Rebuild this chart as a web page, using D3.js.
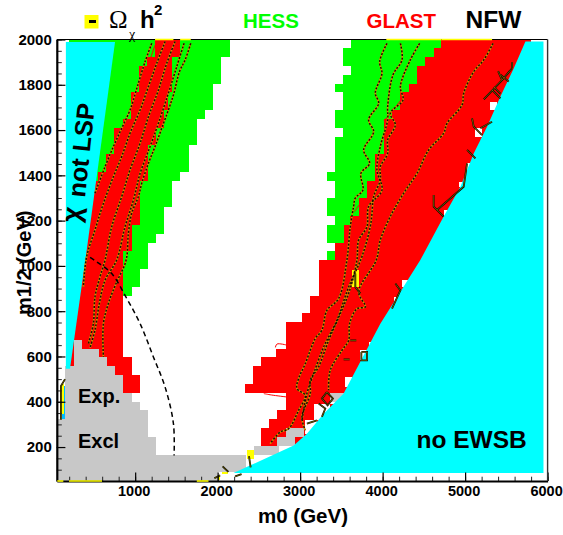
<!DOCTYPE html>
<html><head><meta charset="utf-8">
<script src="https://cdn.jsdelivr.net/npm/d3@7"></script>
<style>html,body{margin:0;padding:0;background:#fff}svg{display:block}text{font-family:"Liberation Sans",Arial,sans-serif;font-weight:bold}</style>
</head><body><div id="c"></div>
<script>
// all bands: [m12 high, m12 low, m0 from, m0 to]
const hessLeft=[[2000,1922,200,2150],[1922,1805,200,2040],[1805,1688,200,1940],[1688,1649,200,1850],[1649,1532,200,1750],[1532,1415,200,1650],[1415,1376,200,1545],[1376,1259,200,1450],[1259,1142,200,1350],[1142,1103,200,1250],[1103,986,200,1160],[986,908,200,1060],[908,869,200,960]];
const hessRight=[[2000,1961,3620,4712],[1961,1883,3523,4712],[1883,1844,3620,4712],[1844,1805,3523,4712],[1805,1766,3426,4712],[1766,1688,3523,4712],[1688,1610,3426,4712],[1610,1571,3523,4712],[1571,1415,3426,4712],[1415,1376,3330,4712],[1376,1298,3426,4712],[1298,1220,3330,4712],[1220,1181,3426,4712],[1181,1103,3330,4712],[1103,1064,3426,4712],[1064,1025,3330,4712]];
const glastLeft=[[2000,1922,1241,1545],[1922,1883,1140,1444],[1883,1766,1047,1444],[1766,1688,946,1400],[1688,1649,946,1351],[1649,1610,849,1351],[1610,1532,744,1254],[1532,1493,744,1153],[1493,1415,647,1153],[1415,1376,546,1153],[1376,1181,300,1060],[1181,1064,200,958],[1064,596,200,857],[596,518,200,958],[518,440,200,1060]];
const glastRight=[[2000,1961,4712,5800],[1961,1922,4620,5800],[1922,1883,4518,5800],[1883,1805,4417,5800],[1805,1766,4316,5800],[1766,1688,4215,5800],[1688,1649,4113,5800],[1649,1493,4012,5800],[1493,1376,3911,5800],[1376,1298,3810,5800],[1298,1220,3709,5800],[1220,1181,3608,5800],[1181,1103,3527,5800],[1103,1025,3426,5800],[1025,869,3224,5800],[869,791,3123,5800],[791,752,3022,5800],[752,635,2832,5800],[635,596,2710,5800],[596,557,2528,5800],[557,479,2431,5800],[479,440,2334,5800],[440,362,2832,5800],[362,323,2722,5800],[323,284,2625,5800],[284,206,2528,5800]];
const gapCells=[[1726,1689,5307,5388],[1608,1571,5125,5206],[1453,1424,5024,5084],[1372,1350,4922,4983],[1247,1218,4740,4801],[937,907,4235,4316],[863,826,4134,4195],[664,642,3831,3891],[627,583,3730,3811],[509,465,3539,3628],[436,392,3365,3527],[392,318,3163,3365],[318,259,3062,3204]];
const omegaCells=[[981,907,3628,3709],[185,148,2354,2435],[115,82,2050,2131],[78,56,1950,2030],[480,348,97,137]];
const excluded=[[674,635,263,352],[635,596,263,566],[596,557,263,663],[557,518,150,756],[518,440,150,857],[440,401,150,958],[401,362,150,1060],[362,323,150,1157],[323,245,50,1157],[245,167,50,1254],[167,89,50,2338],[89,50,50,2010],[284,245,2832,3042],[245,206,2718,2940],[206,167,2435,2738],[440,401,3365,3530]];
const stripCells=[[470,323,110,150]];
// [m0, m12]
const notLsp=[[160,1989],[756,1989],[396,1025],[210,546],[160,546]];
const noEwsb=[[5731,1991],[5950,1991],[5950,85],[2192,85],[2921,207],[3082,259],[3285,347],[3527,436],[3972,745],[4457,1026],[4740,1218],[4943,1350],[5104,1497],[5266,1615],[5428,1748],[5590,1873]];
const contours=[
[[1201,1983],[1120,1902],[1039,1807],[938,1689],[837,1608],[736,1527],[635,1438],[513,1321]],
[[1363,1991],[1262,1895],[1161,1792],[1060,1689],[938,1586],[837,1483],[736,1394],[615,1276],[513,1159],[412,1041],[372,907]],
[[1484,1991],[1383,1895],[1282,1777],[1161,1659],[1060,1542],[938,1424],[837,1306],[716,1173],[635,1026],[574,952],[513,863],[493,745],[433,657]],
[[1593,1983],[1504,1880],[1403,1763],[1282,1630],[1181,1527],[1060,1409],[979,1291],[877,1173],[776,1026],[635,937],[566,834],[513,716],[453,639]],
[[1674,1983],[1606,1910],[1537,1858],[1464,1755],[1403,1689],[1322,1608],[1241,1527],[1161,1453],[1080,1365],[1039,1306],[958,1232],[918,1144],[890,1025],[768,922],[675,834],[615,745],[615,598]],
[[4053,1983],[3964,1902],[3992,1851],[3911,1763],[3952,1718],[3830,1645],[3891,1593],[3770,1512],[3842,1453],[3737,1409],[3761,1335],[3668,1299],[3648,1262],[3608,1173],[3567,1026],[3467,856],[3325,804],[3264,716],[3183,679],[3062,568],[2981,502],[2961,458],[3062,428],[2981,362],[2860,281],[2759,266],[2637,215]],
[[4215,1983],[4235,1910],[4126,1844],[4061,1704],[4061,1645],[3972,1527],[3931,1424],[3992,1335],[3830,1262],[3810,1173],[3709,1114],[3689,1026],[3600,892],[3487,789],[3345,671],[3224,554],[3123,495],[3123,436],[3022,333],[3062,274]],
[[4449,1983],[4336,1910],[4215,1792],[4247,1733],[4093,1674],[4154,1623],[4061,1556],[4061,1497],[3972,1438],[3972,1380],[3891,1306],[3871,1232],[3850,1173],[3749,1041],[3588,907],[3446,760],[3285,642],[3163,524],[3082,436],[3022,318]],
[[5339,1983],[5226,1910],[5104,1858],[4983,1763],[4963,1711],[4781,1630],[4740,1586],[4558,1512],[4417,1409],[4255,1321],[4093,1218],[3972,1114],[3923,1026],[3709,885],[3790,819],[3689,811],[3600,745],[3588,671],[3507,627],[3365,539],[3345,451]]
];
const thinRed=[[[2560,436],[2650,430],[2840,421]],[[2700,640],[2720,655],[2840,650]],[[4216,1730],[4110,1680],[4015,1640]],[[3810,1295],[3730,1275],[3660,1240]],[[1241,1975],[1060,1780],[930,1620],[760,1490],[650,1400]]];
const edgeTraces=[
[[4619,1313],[4619,1262],[4740,1218]],[[5084,1652],[5104,1615],[5206,1578]],[[5024,1512],[5125,1475]],[[5226,1736],[5448,1821],[5570,1873]],[[5024,1453],[4983,1350],[4660,1247]],[[5185,1608],[5327,1637]],[[5327,1777],[5428,1740]],[[5428,1844],[5529,1814]],[[5570,1873],[5570,1900]],[[5448,1821],[5400,1860]],[[5350,1790],[5430,1760]],
[[3325,443],[3398,414],[3333,384],[3264,414],[3325,443]],[[3224,392],[3305,370],[3264,333]],[[4154,922],[4215,892],[4114,811]],[[3608,671],[3681,671]],[[3527,587],[3600,587]],[[3669,966],[3669,907],[3730,878]],[[3082,303],[3204,318]],[[3742,620],[3810,620],[3810,583],[3742,583],[3742,620]],
[[2380,160],[2400,110]],[[2060,115],[2130,90]],[[1960,62],[2030,75]],[[2212,70],[2290,80]],[[100,320],[100,470],[150,500]]
];
const sugraLimit=[[453,1038],[534,1018],[716,966],[898,856],[1060,745],[1221,598],[1363,465],[1464,303],[1472,163]];
const bottomMarks=[[56,129],[198,598],[1747,1889]];
const topMarks=[[1241,1464],[1545,1674],[4045,4712],[4712,5327]];
const xTickValues=[1000,2000,3000,4000,5000,6000];
const yTickValues=[200,400,600,800,1000,1200,1400,1600,1800,2000];
const xMinor=d3.range(200,6001,200);
const yMinor=d3.range(50,2001,50);

const svg=d3.select("#c").append("svg").attr("width",563).attr("height",535);
const x=d3.scaleLinear().domain([50,6000]).range([56.8,547.6]);
const y=d3.scaleLinear().domain([50,2000]).range([481,39.5]);
function cells(data,color){
  svg.append("g").attr("shape-rendering","crispEdges").selectAll("rect").data(data).join("rect")
    .attr("x",d=>x(d[2])).attr("y",d=>y(d[0])).attr("width",d=>x(d[3])-x(d[2])).attr("height",d=>y(d[1])-y(d[0])).attr("fill",color);
}
cells(hessLeft,"#00ff00");cells(hessRight,"#00ff00");
cells(glastLeft,"#ff0000");cells(glastRight,"#ff0000");
cells(gapCells,"#ffffff");
cells(stripCells,"#00bfff");
cells(omegaCells,"#ffff00");
cells(excluded,"#c8c8c8");
const poly=d3.line().x(d=>x(d[0])).y(d=>y(d[1]));
[notLsp,noEwsb].forEach(p=>svg.append("path").attr("d",poly(p)+"Z").attr("fill","#00ffff"));
const smooth=d3.line().x(d=>x(d[0])).y(d=>y(d[1])).curve(d3.curveCatmullRom.alpha(.5));
svg.append("g").attr("fill","none").selectAll("path").data(thinRed).join("path").attr("d",smooth).attr("stroke","#ff0000").attr("stroke-width",1);
const cg=svg.append("g").attr("fill","none");
cg.selectAll("path.a").data(contours).join("path").attr("class","a").attr("d",smooth).attr("stroke","#d89000").attr("stroke-width",1.7);
cg.selectAll("path.b").data(contours).join("path").attr("class","b").attr("d",smooth).attr("stroke","#1a1000").attr("stroke-width",1.5).attr("stroke-dasharray","2,1.6");
const eg=svg.append("g").attr("fill","none");
eg.selectAll("path.a").data(edgeTraces).join("path").attr("class","a").attr("d",poly).attr("stroke","#000").attr("stroke-width",1.8);
eg.selectAll("path.b").data(edgeTraces).join("path").attr("class","b").attr("d",poly).attr("stroke","#ffe000").attr("stroke-width",.4);
svg.append("path").attr("d",smooth(sugraLimit)).attr("fill","none").attr("stroke","#000").attr("stroke-width",1.5).attr("stroke-dasharray","5,3.5");
const marks=(data,yv)=>svg.append("g").selectAll("line").data(data).join("line").attr("x1",d=>x(d[0])).attr("x2",d=>x(d[1])).attr("y1",y(yv)).attr("y2",y(yv)).attr("stroke","#ffff00").attr("stroke-width",1.6);

// axes
const xa=svg.append("g").attr("transform",`translate(0,${y(50)})`);
xa.call(d3.axisBottom(x).tickValues(xMinor).tickSize(-4.3).tickFormat("")).selectAll("line").attr("stroke","#222").attr("stroke-width",1);
xa.select(".domain").remove();
const xb=svg.append("g").attr("transform",`translate(0,${y(50)})`);
xb.call(d3.axisBottom(x).tickValues(xTickValues).tickSizeInner(-8.6).tickSizeOuter(0).tickPadding(5).tickFormat(d3.format("d")));
xb.selectAll("line").attr("stroke","#000").attr("stroke-width",1.2);
xb.selectAll("text").attr("font-size",14.5).attr("fill","#000").attr("dx",-1.5);
const ya=svg.append("g").attr("transform",`translate(${x(50)},0)`);
ya.call(d3.axisLeft(y).tickValues(yMinor).tickSize(-5).tickFormat(""));
ya.selectAll("line").attr("stroke","#222").attr("stroke-width",1);ya.select(".domain").remove();
const yb=svg.append("g").attr("transform",`translate(${x(50)},0)`);
yb.call(d3.axisLeft(y).tickValues(yTickValues).tickSizeInner(-8.6).tickSizeOuter(0).tickPadding(5).tickFormat(d3.format("d")));
yb.selectAll("line").attr("stroke","#000").attr("stroke-width",1.2);
yb.selectAll("text").attr("font-size",15).attr("fill","#000");
xb.select(".domain").attr("stroke","#000").attr("stroke-width",2.2);
yb.select(".domain").attr("stroke","#000").attr("stroke-width",2.2);
svg.append("line").attr("x1",x(50)).attr("x2",x(6000)).attr("y1",y(2000)).attr("y2",y(2000)).attr("stroke","#000").attr("stroke-width",1);
svg.append("line").attr("x1",x(6000)).attr("x2",x(6000)).attr("y1",y(2000)).attr("y2",y(50)).attr("stroke","#333").attr("stroke-width",1.4);
marks(bottomMarks,50);marks(topMarks,2000);

function txt(t,px,py,size,col,anchor,rot){
  const e=svg.append("text").attr("x",px).attr("y",py).attr("font-size",size).attr("fill",col||"#000").attr("text-anchor",anchor||"start").text(t);
  if(rot!==undefined)e.attr("transform",`rotate(${rot} ${px} ${py})`);
  return e;
}
txt("m0 (GeV)",258,523,20.5);
txt("m1/2 (GeV)",31,315,20,"#000","start",-90);
txt("Exp.",78,402.5,20);
txt("Excl",78,447.5,20);
txt("no EWSB",416.5,447.5,24.5);
txt("NFW",465.5,27.5,24.5);
txt("GLAST",366.5,27.5,20.5,"#ff0000");
txt("HESS",243,27.5,20.5,"#00ff00");
txt("not LSP",85,198,25,"#000","start",-84);
txt("χ",80,223,27,"#000","start",-84);
svg.append("rect").attr("x",84.5).attr("y",15).attr("width",14).attr("height",13.5).attr("fill","#ffff00");
svg.append("rect").attr("x",89).attr("y",20).attr("width",7).attr("height",3).attr("fill","#000");
txt("Ω",109,28,25).style("font-family","Liberation Serif").style("font-weight","normal");
txt("χ",129,39,14).style("font-family","Liberation Serif").style("font-weight","normal");
txt("h",140,28,24);
txt("2",154,15,15);
</script></body></html>
